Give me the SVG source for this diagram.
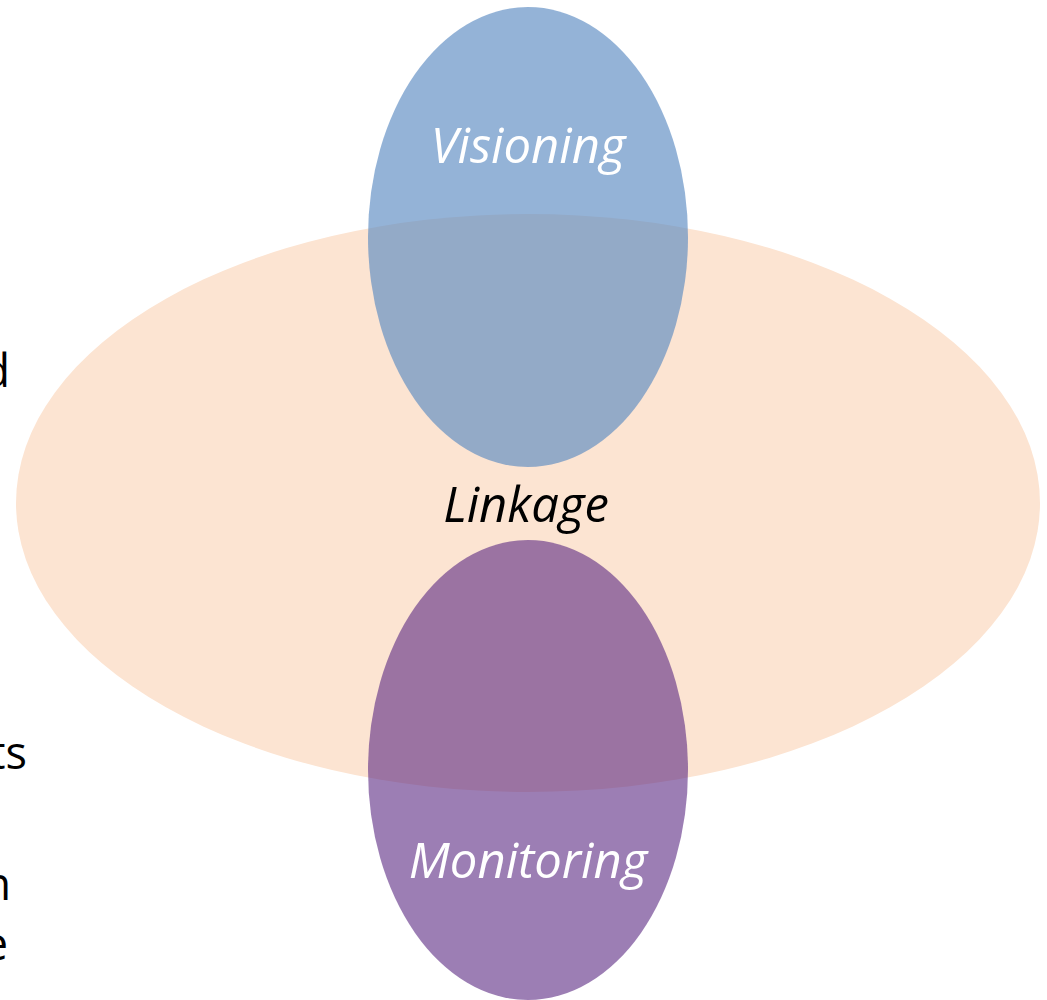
<svg xmlns="http://www.w3.org/2000/svg" width="1047" height="1000" viewBox="0 0 1047 1000">
<style>
.lbl{font-family:"Open Sans","Noto Sans","DejaVu Sans",sans-serif;font-style:italic;font-size:49px;text-anchor:middle}
.side{font-family:"Open Sans","Noto Sans","DejaVu Sans",sans-serif;font-size:45px;fill:#000;text-anchor:end}
</style>
<rect width="1047" height="1000" fill="#ffffff"/>
<g id="side-text">
<text class="side" x="10" y="387">d</text>
<text class="side" x="27" y="769">ts</text>
<text class="side" x="11" y="900">n</text>
<text class="side" x="8" y="960">e</text>
</g>
<g id="linkage">
<ellipse cx="528" cy="503" rx="512" ry="289" fill="#FCE4D2"/>
<text class="lbl" x="526" y="522" fill="#000">Linkage</text>
</g>
<g id="visioning">
<ellipse cx="528" cy="237" rx="160" ry="230" fill="#5B8AC2" fill-opacity="0.65"/>
<text class="lbl" x="528" y="163" fill="#fff">Visioning</text>
</g>
<g id="monitoring">
<ellipse cx="528" cy="770" rx="160" ry="230" fill="#5A2882" fill-opacity="0.6"/>
<text class="lbl" x="528" y="878" fill="#fff">Monitoring</text>
</g>
<g id="connectors"/>
</svg>
